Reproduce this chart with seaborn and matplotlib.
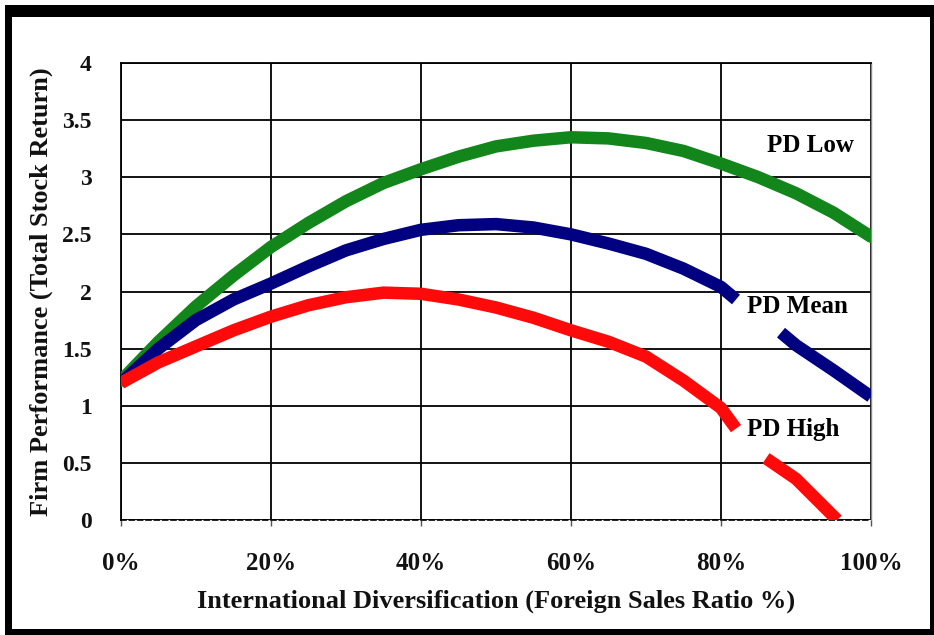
import numpy as np
import pandas as pd
import matplotlib
matplotlib.use("Agg")
import matplotlib.pyplot as plt
from matplotlib.patches import Rectangle
import seaborn as sns

# ---- data ----
low_x = [0, 5, 10, 15, 20, 25, 30, 35, 40, 45, 50, 55, 60, 65, 70, 75, 80, 85, 90, 95, 100]
low_y = [1.22, 1.56, 1.87, 2.14, 2.39, 2.60, 2.79, 2.95, 3.07, 3.18, 3.27, 3.32, 3.35, 3.34, 3.30, 3.23, 3.12, 3.00, 2.86, 2.69, 2.48]

mean_x1 = [0, 5, 10, 15, 20, 25, 30, 35, 40, 45, 50, 55, 60, 65, 70, 75, 80, 82]
mean_y1 = [1.20, 1.50, 1.75, 1.93, 2.07, 2.22, 2.36, 2.46, 2.54, 2.58, 2.59, 2.56, 2.50, 2.42, 2.33, 2.20, 2.04, 1.93]
mean_x2 = [88, 90, 95, 100]
mean_y2 = [1.64, 1.53, 1.31, 1.08]

high_x1 = [0, 5, 10, 15, 20, 25, 30, 35, 40, 45, 50, 55, 60, 65, 70, 75, 80, 82]
high_y1 = [1.20, 1.38, 1.52, 1.66, 1.78, 1.88, 1.95, 1.99, 1.98, 1.93, 1.86, 1.77, 1.66, 1.56, 1.43, 1.22, 0.98, 0.80]
high_x2 = [86, 90, 95.5]
high_y2 = [0.54, 0.36, 0.0]

series_labels = ["PD Low", "PD Mean", "PD High"]
x_ticks = [0, 20, 40, 60, 80, 100]
x_ticklabels = ["0%", "20%", "40%", "60%", "80%", "100%"]
y_ticks = [0, 0.5, 1, 1.5, 2, 2.5, 3, 3.5, 4]
y_ticklabels = ["0", "0.5", "1", "1.5", "2", "2.5", "3", "3.5", "4"]
x_title = "International Diversification (Foreign Sales Ratio %)"
y_title = "Firm Performance (Total Stock Return)"

GREEN = "#12861a"
BLUE = "#000080"
RED = "#ff0a0a"

sns.set_theme(style="white")
plt.rcParams["font.family"] = ["Liberation Serif", "DejaVu Serif"]
plt.rcParams["font.weight"] = "bold"

W, H = 934, 635
fig = plt.figure(figsize=(W / 100, H / 100), dpi=100)
fig.patch.set_facecolor("white")

L, R, T, B = 121, 871, 63, 520
ax = fig.add_axes([L / W, 1 - B / H, (R - L) / W, (B - T) / H])
ax.set_facecolor("white")

def seg(x, y, color, cap):
    df = pd.DataFrame({"x": x, "y": y})
    sns.lineplot(data=df, x="x", y="y", ax=ax, color=color, linewidth=9,
                 solid_capstyle=cap, solid_joinstyle="round", sort=False,
                 estimator=None, zorder=3)

seg(low_x, low_y, GREEN, "round")
seg(mean_x1, mean_y1, BLUE, "butt")
seg(mean_x2, mean_y2, BLUE, "butt")
seg(high_x1, high_y1, RED, "butt")
seg(high_x2, high_y2, RED, "butt")

ax.set_xlim(0, 100)
ax.set_ylim(0, 4)
ax.set_xticks(x_ticks)
ax.set_xticklabels(x_ticklabels)
ax.set_yticks(y_ticks)
ax.set_yticklabels(y_ticklabels)

ax.grid(True, color="black", linewidth=1.3)
ax.set_axisbelow(True)
for s in ["left", "top"]:
    ax.spines[s].set_visible(True)
    ax.spines[s].set_color("black")
    ax.spines[s].set_linewidth(1.3)
ax.spines["right"].set_color("#888888")
ax.spines["right"].set_linewidth(1.0)
ax.spines["bottom"].set_color("black")
ax.spines["bottom"].set_linewidth(1.2)
ax.spines["bottom"].set_linestyle((0, (3, 2)))

ax.tick_params(axis="x", which="major", bottom=True, length=4, width=1, color="#555555",
               pad=19, labelsize=18)
ax.tick_params(axis="y", which="major", left=False, length=0, pad=21, labelsize=17)
for lab in ax.get_xticklabels() + ax.get_yticklabels():
    lab.set_fontweight("bold")
    lab.set_color("#111111")

ax.set_xlabel(x_title, fontsize=19, fontweight="bold", color="#111111")
ax.set_ylabel(y_title, fontsize=19, fontweight="bold", color="#111111")
ax.xaxis.set_label_coords(0.5, (B - 590) / (B - T))
ax.yaxis.set_label_coords((53 - L) / (R - L), 0.5)

# series labels
lab_pos = [(86.1, 3.28), (83.5, 1.87), (83.5, 0.79)]
for (lx, ly), txt in zip(lab_pos, series_labels):
    ax.text(lx, ly, txt, fontsize=18, fontweight="heavy", color="black",
            ha="left", va="center", zorder=5)

# black picture frame
def frame_rect(x0, y0, x1, y1):
    fig.add_artist(Rectangle((x0 / W, 1 - y1 / H), (x1 - x0) / W, (y1 - y0) / H,
                             transform=fig.transFigure, facecolor="black",
                             edgecolor="none", zorder=10))

frame_rect(5, 5, W, 17)      # top
frame_rect(5, 5, 12, H)      # left
frame_rect(930, 5, W, H)     # right
frame_rect(5, 629, W, H)     # bottom

fig.savefig("out.png", dpi=100, facecolor="white")
